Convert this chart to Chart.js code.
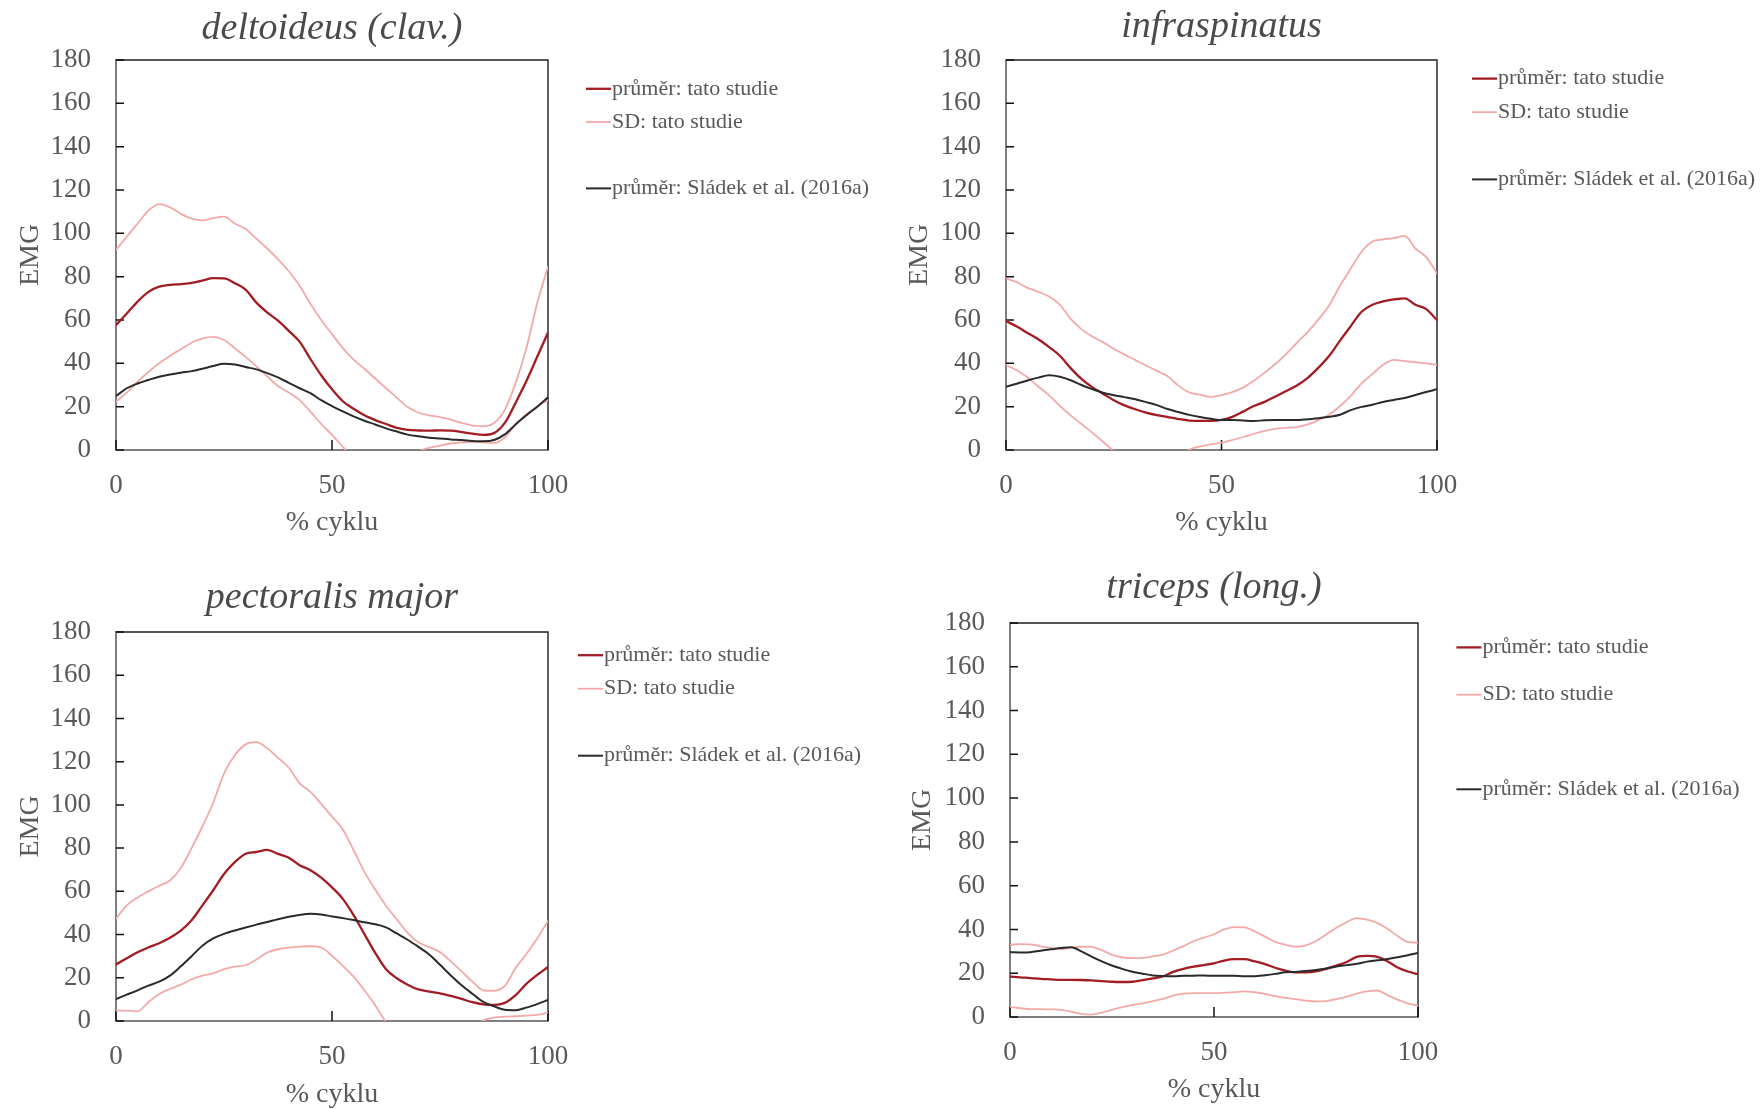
<!DOCTYPE html>
<html lang="cs">
<head>
<meta charset="utf-8">
<title>EMG – průběh cyklu</title>
<script src="https://cdn.jsdelivr.net/npm/chart.js@4.4.1/dist/chart.umd.min.js"></script>
<style>
  html, body { margin: 0; padding: 0; background: #fff; overflow: hidden; }
  body { position: relative; width: 1760px; height: 1109px; }
  canvas { position: absolute; }
</style>
</head>
<body>
<canvas id="deltoideus" width="880" height="600" style="left:0;top:0"></canvas>
<canvas id="infraspinatus" width="880" height="600" style="left:880px;top:0"></canvas>
<canvas id="pectoralis" width="880" height="600" style="left:0;top:540px"></canvas>
<canvas id="triceps" width="880" height="600" style="left:880px;top:540px"></canvas>
<script>
// % cyklu
const cyklus = [0, 2.5, 5, 7.5, 10, 12.5, 15, 17.5, 20, 22.5, 25, 27.5, 30, 32.5, 35, 37.5, 40, 42.5, 45, 47.5,
  50, 52.5, 55, 57.5, 60, 62.5, 65, 67.5, 70, 72.5, 75, 77.5, 80, 82.5, 85, 87.5, 90, 92.5, 95, 97.5, 100];

const deltoideusPrumer = [57.7, 63, 68.5, 73, 75.4, 76.2, 76.6, 77.1, 78.2, 79.3, 79.2, 77, 74, 68, 63.5, 59.7, 55, 50, 42, 34.5,
  28, 22.5, 19, 16, 13.8, 12, 10.2, 9.3, 9, 8.9, 9.1, 8.9, 8.3, 7.6, 7, 7.8, 12.5, 21.8, 31.8, 43, 54.2];
const deltoideusSdHorni = [92.3, 98.5, 104.5, 110.5, 113.5, 112, 109, 106.8, 106, 107, 107.7, 104.5, 102, 97.5, 93, 88, 82.5, 75.8, 67.5, 60,
  53.5, 47, 41.7, 37.5, 33, 28.5, 24.2, 19.8, 17.2, 16, 15.2, 14, 12.5, 11.3, 11, 12.5, 18.5, 31, 47, 67.7, 84.6];
const deltoideusSdDolni = [22.3, 26.5, 31.5, 36, 40, 43.5, 46.5, 49.5, 51.5, 52.2, 50.8, 47, 43, 38.6, 34, 29.5, 26.5, 23, 17.7, 12,
  7, 1.5, -4, -8, -10, -11, -10, -7, -1, 1, 2, 3, 3.5, 3.8, 3.5, 3.2, 5.8, 11.8, 16.5, 20, 23];
const deltoideusSladek = [24.9, 28.5, 30.7, 32.3, 33.8, 34.8, 35.7, 36.4, 37.5, 38.8, 39.8, 39.5, 38.3, 37.2, 35.5, 33.5, 31, 28.5, 26.2, 23,
  20.3, 17.8, 15.5, 13.5, 11.8, 10, 8.5, 7.1, 6.3, 5.7, 5.3, 4.9, 4.6, 4.2, 4, 4.6, 7.2, 11.8, 16, 20, 24.3];

const infraspinatusPrumer = [59.5, 57, 54, 51.1, 47.5, 43.5, 37.8, 32.8, 29, 26, 23, 20.6, 18.8, 17.3, 16.1, 15.2, 14.3, 13.6, 13.4, 13.4,
  13.9, 15.3, 17.7, 20.3, 22.2, 24.7, 27.2, 29.8, 33.3, 38, 43.5, 50.5, 57.2, 63.8, 67, 68.6, 69.5, 70, 67, 65, 60];
const infraspinatusSdHorni = [79.2, 77.5, 74.8, 73, 70.8, 67, 60.5, 55.8, 52.4, 49.8, 46.7, 44, 41.5, 39, 36.5, 34, 29.7, 26.6, 25.5, 24.4,
  25.3, 26.7, 28.8, 32, 35.7, 39.7, 44.3, 49.5, 54.5, 60.3, 66.8, 75.8, 83.8, 91.5, 96.2, 97.2, 97.8, 98.8, 93, 89, 81.5];
const infraspinatusSdDolni = [39.2, 36.8, 33.5, 29.3, 25.2, 20.4, 16, 12, 8, 3.8, -0.5, -4, -7, -9, -9, -7, -3.5, 0.2, 1.6, 2.6,
  3.4, 4.6, 6, 7.5, 8.8, 9.8, 10.2, 10.6, 11.8, 13.8, 16.4, 20.3, 25, 30.8, 35, 39.3, 41.6, 41, 40.5, 40, 39.2];
const infraspinatusSladek = [29.2, 30.6, 32.1, 33.4, 34.5, 33.8, 32.2, 30, 28.1, 26.4, 25.3, 24.4, 23.4, 22.1, 20.7, 18.9, 17.5, 16.2, 15.2, 14.4,
  13.8, 13.8, 13.6, 13.4, 13.7, 13.8, 13.8, 13.8, 14.2, 14.6, 15.3, 16.3, 18.4, 19.9, 20.9, 22.2, 23.1, 24, 25.4, 26.8, 28];

const pectoralisPrumer = [26.2, 29, 31.8, 34, 36, 38.5, 41.8, 46.6, 53.5, 60.5, 68, 73.5, 77.4, 78.2, 79.2, 77.3, 75.5, 72.1, 69.8, 66.3,
  61.8, 56.5, 49, 40.2, 31.5, 24, 19.8, 16.8, 14.6, 13.6, 12.8, 11.6, 10.2, 8.7, 7.7, 7.5, 8.4, 12, 17.2, 21.3, 25];
const pectoralisSdHorni = [47.4, 53.5, 57.2, 60, 62.6, 65, 70.8, 80, 90, 101, 114.5, 123, 128, 129, 126.2, 121.8, 117.2, 110, 106, 100.5,
  94.6, 88.6, 79, 69, 60.8, 53.3, 47, 40.8, 36.4, 34.2, 31.8, 27.6, 23, 18.2, 14.2, 14, 16.2, 24.5, 31, 38.2, 46.3];
const pectoralisSdDolni = [4.8, 4.8, 4.5, 8.7, 12.5, 14.8, 16.8, 19.3, 21, 22, 24, 25.2, 25.8, 28.5, 31.7, 33.2, 34, 34.4, 34.6, 34,
  30.2, 25.5, 20.5, 14.2, 7.3, -0.5, -6, -10, -12, -12, -11, -9, -6, -3, 0.3, 1.6, 2, 2.2, 2.5, 2.8, 4];
const pectoralisSladek = [10.2, 12.2, 14.2, 16.4, 18.2, 21, 25.3, 30, 34.8, 38.2, 40.3, 41.9, 43.3, 44.6, 45.8, 47.1, 48.2, 49.1, 49.6, 49.3,
  48.4, 47.6, 46.7, 45.7, 44.8, 43.3, 40.5, 37.6, 34.3, 30.8, 26, 21.1, 16.5, 12.6, 8.9, 6.8, 5.2, 5, 6.2, 7.8, 9.7];

const tricepsPrumer = [18.5, 18.1, 17.8, 17.4, 17.2, 17, 17, 16.9, 16.7, 16.4, 16.1, 16, 16.1, 16.8, 17.6, 18.6, 20.6, 22, 23, 23.7,
  24.5, 25.8, 26.4, 26.4, 25.4, 24.2, 22.5, 21.2, 20.4, 20.4, 20.8, 22, 23.5, 25.1, 27.5, 27.9, 27.5, 25.5, 22.6, 20.8, 19.6];
const tricepsSdHorni = [33, 33.3, 33.2, 32.3, 31.6, 31, 31.7, 32.1, 32, 30.5, 28.4, 27.3, 26.9, 27, 27.7, 28.5, 30.4, 32.4, 34.6, 36.3,
  37.8, 40, 41.1, 40.9, 39.1, 36.7, 34.3, 33, 32.1, 32.7, 34.7, 37.7, 40.8, 43.3, 45.2, 44.5, 43, 40.3, 37, 34.3, 34];
const tricepsSdDolni = [4.6, 4, 3.6, 3.6, 3.5, 3.3, 2.5, 1.4, 1.1, 2, 3.3, 4.5, 5.5, 6.2, 7.2, 8.3, 9.8, 10.7, 10.9, 10.9,
  10.9, 11.1, 11.4, 11.7, 11.3, 10.6, 9.5, 8.7, 8.2, 7.5, 7.1, 7.3, 8.2, 9.3, 10.7, 11.7, 12.1, 10, 7.9, 6.2, 5.2];
const tricepsSladek = [29.6, 29.5, 29.6, 30.3, 30.9, 31.5, 31.9, 30, 27.6, 25.4, 23.5, 22, 20.7, 19.8, 19, 18.7, 18.6, 18.8, 18.9, 19,
  18.8, 18.8, 18.8, 18.6, 18.6, 19.1, 19.7, 20.4, 20.6, 21, 21.5, 22.2, 23.1, 23.7, 24.3, 25.3, 25.9, 26.5, 27.3, 28.2, 29.2];

const yTicks = { min: 0, max: 180, step: 20 };
const xTicks = { min: 0, max: 100, step: 50 };

const CERVENA = "#a31b23";
const RUZOVA = "#f4a9a9";
const CERNA = "#2a2a2a";
const SEDA_TEXT = "#595959";

Chart.defaults.font.family = "'Liberation Serif', 'Times New Roman', serif";
Chart.defaults.color = SEDA_TEXT;

// top and right edge of the plot box + inward tick marks
const ramecek = {
  id: "ramecek",
  beforeDatasetsDraw(chart) {
    const { ctx, chartArea: a } = chart;
    const sx = chart.scales.x;
    const sy = chart.scales.y;
    ctx.save();
    ctx.strokeStyle = "#1e1e1e";
    ctx.lineWidth = 1.4;
    ctx.beginPath();
    ctx.moveTo(a.left, a.top);
    ctx.lineTo(a.right, a.top);
    ctx.lineTo(a.right, a.bottom);
    ctx.stroke();

    ctx.strokeStyle = "#111";
    ctx.lineWidth = 1.5;
    ctx.beginPath();
    for (const t of sy.ticks) {
      const py = sy.getPixelForValue(t.value);
      ctx.moveTo(a.left, py);
      ctx.lineTo(a.left + 8, py);
    }
    for (const t of sx.ticks) {
      const px = sx.getPixelForValue(t.value);
      ctx.moveTo(px, a.bottom);
      ctx.lineTo(px, a.bottom - 10);
    }
    ctx.stroke();
    ctx.restore();
  },
};

// legend on the right, fixed rows (row 2 stays empty)
const legenda = {
  id: "legenda",
  afterDraw(chart, args, opts) {
    const { ctx } = chart;
    ctx.save();
    ctx.font = "22px 'Liberation Serif'";
    ctx.textBaseline = "middle";
    ctx.textAlign = "left";
    ctx.fillStyle = SEDA_TEXT;
    for (const ds of chart.data.datasets) {
      if (ds.legendRow === undefined) continue;
      const y = opts.y + ds.legendRow * opts.step;
      ctx.strokeStyle = ds.borderColor;
      ctx.lineWidth = ds.borderWidth;
      ctx.beginPath();
      ctx.moveTo(opts.x, y);
      ctx.lineTo(opts.x + 25, y);
      ctx.stroke();
      ctx.fillText(ds.label, opts.x + 26, y);
    }
    ctx.restore();
  },
};

function body(values) {
  return cyklus.map((x, i) => ({ x: x, y: values[i] }));
}

function renderPanel(id, title, series, box) {
  const datasets = [
    { label: "průměr: Sládek et al. (2016a)", data: body(series.sladek), borderColor: CERNA, borderWidth: 2, legendRow: 3 },
    { label: "průměr: tato studie", data: body(series.prumer), borderColor: CERVENA, borderWidth: 2.3, legendRow: 0 },
    { label: "SD: tato studie", data: body(series.horni), borderColor: RUZOVA, borderWidth: 1.8, legendRow: 1 },
    { label: "SD: tato studie", data: body(series.dolni), borderColor: RUZOVA, borderWidth: 1.8 },
  ];

  return new Chart(document.getElementById(id), {
    type: "line",
    data: { datasets: datasets },
    options: {
      responsive: false,
      animation: false,
      devicePixelRatio: 1,
      events: [],
      layout: { padding: box.padding },
      elements: {
        point: { radius: 0 },
        line: { cubicInterpolationMode: "monotone", borderCapStyle: "round", borderJoinStyle: "round" },
      },
      scales: {
        x: {
          type: "linear",
          min: xTicks.min,
          max: xTicks.max,
          ticks: { stepSize: xTicks.step, padding: 20, font: { size: 27 }, color: SEDA_TEXT, maxRotation: 0 },
          grid: { display: false, drawTicks: false },
          border: { display: true, color: "#7f7f7f", width: 2 },
          title: { display: true, text: "% cyklu", font: { size: 28, lineHeight: 1.2 }, color: SEDA_TEXT, padding: 0 },
          afterFit(scale) {
            scale.height = box.xHeight;
          },
        },
        y: {
          type: "linear",
          min: yTicks.min,
          max: yTicks.max,
          ticks: { stepSize: yTicks.step, padding: 25, font: { size: 27 }, color: SEDA_TEXT },
          grid: { display: false, drawTicks: false },
          border: { display: true, color: "#7f7f7f", width: 2 },
          title: { display: true, text: "EMG", font: { size: 28, lineHeight: 1.2 }, color: SEDA_TEXT, padding: { top: box.emgPad, bottom: 0 } },
          afterFit(scale) {
            scale.width = box.yWidth;
          },
        },
      },
      plugins: {
        legend: { display: false },
        tooltip: { enabled: false },
        title: {
          display: true,
          text: title,
          fullSize: false,
          color: "#4a4a4a",
          font: { size: 38, style: "italic", weight: "normal", lineHeight: 1.2 },
          padding: { top: 0, bottom: box.titleGap },
        },
        legenda: box.legend,
      },
    },
    plugins: [ramecek, legenda],
  });
}

renderPanel("deltoideus", "deltoideus (clav.)",
  { prumer: deltoideusPrumer, horni: deltoideusSdHorni, dolni: deltoideusSdDolni, sladek: deltoideusSladek },
  {
    padding: { left: 0, right: 332, top: 6, bottom: 60.5 },
    yWidth: 116, xHeight: 89.5, titleGap: 8.4, emgPad: 14,
    legend: { x: 586, y: 88.8, step: 33.2 },
  });

renderPanel("infraspinatus", "infraspinatus",
  { prumer: infraspinatusPrumer, horni: infraspinatusSdHorni, dolni: infraspinatusSdDolni, sladek: infraspinatusSladek },
  {
    padding: { left: 0, right: 323, top: 4, bottom: 60.5 },
    yWidth: 126, xHeight: 89.5, titleGap: 10.4, emgPad: 22.5,
    legend: { x: 592, y: 78.6, step: 33.6 },
  });

renderPanel("pectoralis", "pectoralis major",
  { prumer: pectoralisPrumer, horni: pectoralisSdHorni, dolni: pectoralisSdDolni, sladek: pectoralisSladek },
  {
    padding: { left: 0, right: 332, top: 35, bottom: 28.7 },
    yWidth: 116, xHeight: 90.3, titleGap: 11.4, emgPad: 14,
    legend: { x: 578, y: 115.2, step: 33.5 },
  });

renderPanel("triceps", "triceps (long.)",
  { prumer: tricepsPrumer, horni: tricepsSdHorni, dolni: tricepsSdDolni, sladek: tricepsSladek },
  {
    padding: { left: 0, right: 342, top: 25, bottom: 33.7 },
    yWidth: 130, xHeight: 89.3, titleGap: 12.4, emgPad: 26,
    legend: { x: 576.4, y: 107.4, step: 47.3 },
  });
</script>
</body>
</html>
